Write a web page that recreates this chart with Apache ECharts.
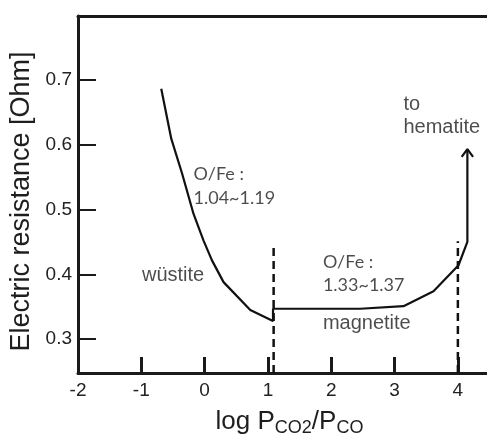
<!DOCTYPE html>
<html><head><meta charset="utf-8">
<script src="https://cdn.jsdelivr.net/npm/echarts@6/dist/echarts.min.js"></script>
<style>html,body{margin:0;padding:0;background:#fff}#c{width:487px;height:436px}</style>
</head><body><div id="c"></div>
<script>
// tick labels
const xTickLabels = [-2, -1, 0, 1, 2, 3, 4];
const xTickMarks = [-1, 0, 1, 2, 3, 4];
const yTickLabels = [0.3, 0.4, 0.5, 0.6, 0.7];
// resistance curve (wüstite -> magnetite -> towards hematite)
const curveX = [-0.685, -0.527, -0.355, -0.175, -0.017, 0.116, 0.299, 0.721, 1.08, 1.08, 2.458, 3.141, 3.615, 4.01, 4.15, 4.15];
const curveY = [0.686, 0.609, 0.555, 0.493, 0.452, 0.4215, 0.388, 0.345, 0.328, 0.347, 0.347, 0.351, 0.374, 0.414, 0.450, 0.593];
// arrow head
const arrowX = [4.06, 4.15, 4.24];
const arrowY = [0.581, 0.593, 0.581];
// phase boundaries (dashed)
const boundaryX = [1.09, 4.0];
const boundaryTop = [0.447, 0.451];
// annotations
const noteText = ["O/Fe :", "1.04~1.19", "wüstite", "O/Fe :", "1.33~1.37", "magnetite", "to", "hematite"];
const noteX = [-0.175, -0.175, -0.99, 1.868, 1.868, 1.868, 3.14, 3.14];
const noteY = [0.555, 0.517, 0.398, 0.419, 0.383, 0.324, 0.661, 0.626];
const noteLato = [true, true, false, true, true, false, false, false];

const X_MIN = -2, X_MAX = 4.46, Y_MIN = 0.248, Y_MAX = 0.798;
const chart = echarts.init(document.getElementById('c'));
const axisCol = '#1a1a1a';
const series = [];
series.push({
  type: 'line', symbol: 'none', animation: false,
  data: curveX.map((x, i) => [x, curveY[i]]),
  lineStyle: { color: '#111', width: 2.2 }
});
series.push({
  type: 'line', symbol: 'none', animation: false,
  data: arrowX.map((x, i) => [x, arrowY[i]]),
  lineStyle: { color: '#111', width: 2.2 }
});
boundaryX.forEach((bx, i) => {
  series.push({
    type: 'line', symbol: 'none', animation: false,
    data: [[bx, Y_MIN], [bx, boundaryTop[i]]],
    lineStyle: { color: '#111', width: 2.5, type: [8, 5] }
  });
});
series.push({
  type: 'scatter', symbolSize: 0, animation: false,
  data: noteText.map((t, i) => ({
    value: [noteX[i], noteY[i]], name: t,
    label: {
      fontFamily: noteLato[i] ? 'Lato' : 'Liberation Sans',
      fontSize: noteLato[i] ? 18 : 20
    }
  })),
  label: {
    show: true, position: 'right', distance: 0, color: '#1e1e1e',
    formatter: p => p.name
  }
});

chart.setOption({
  backgroundColor: '#fff',
  grid: { left: 78, right: 0, top: 16, bottom: 63, containLabel: false, outerBoundsMode: 'none' },
  xAxis: [{
    type: 'value', min: X_MIN, max: X_MAX, position: 'bottom',
    axisLine: { show: true, onZero: false, lineStyle: { color: axisCol, width: 3 } },
    axisTick: { show: true, inside: true, length: 16, customValues: xTickMarks, lineStyle: { color: axisCol, width: 3 } },
    axisLabel: { customValues: xTickLabels, color: '#222', fontSize: 19, fontFamily: 'Liberation Sans', margin: 8, formatter: v => String(v) },
    splitLine: { show: false },
    name: 'log P{s|CO2}/P{s|CO}', nameLocation: 'middle', nameGap: 34,
    nameTextStyle: {
      color: '#1e1e1e', fontSize: 26, fontFamily: 'Liberation Sans', padding: [0, 0, 0, 14],
      rich: { s: { fontSize: 18, fontFamily: 'Liberation Sans', color: '#1e1e1e', verticalAlign: 'bottom', padding: [12, 0, 0, 0] } }
    }
  }, {
    type: 'value', min: X_MIN, max: X_MAX, position: 'top',
    axisLine: { show: true, onZero: false, lineStyle: { color: axisCol, width: 3 } },
    axisTick: { show: false }, axisLabel: { show: false }, splitLine: { show: false }
  }],
  yAxis: {
    type: 'value', min: Y_MIN, max: Y_MAX,
    axisLine: { show: true, onZero: false, lineStyle: { color: axisCol, width: 3 } },
    axisTick: { show: true, inside: true, length: 18, customValues: yTickLabels, lineStyle: { color: axisCol, width: 2 } },
    axisLabel: { customValues: yTickLabels, color: '#222', fontSize: 19, fontFamily: 'Liberation Sans', margin: 6, formatter: v => v.toFixed(1) },
    splitLine: { show: false },
    name: 'Electric resistance [Ohm]', nameLocation: 'middle', nameGap: 40,
    nameTextStyle: { color: '#1e1e1e', fontSize: 27, fontFamily: 'Liberation Sans', padding: [0, 14, 0, 0] }
  },
  series: series
});
</script>
</body></html>
